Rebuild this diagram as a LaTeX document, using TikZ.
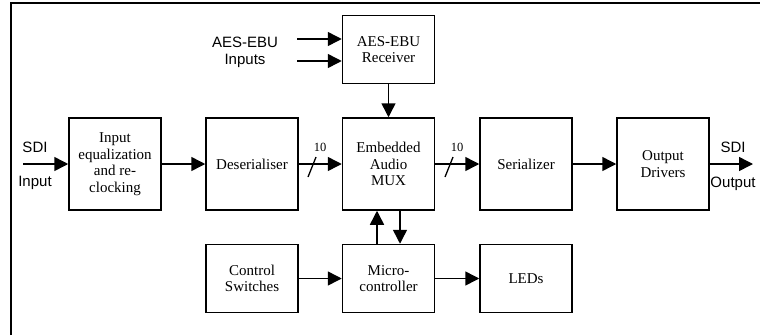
\documentclass[tikz,border=0pt]{standalone}
\usepackage{fontspec}
\setmainfont{Liberation Serif}
\setsansfont{Liberation Sans}
\usetikzlibrary{arrows.meta}

\begin{document}
\begin{tikzpicture}[x=1pt, y=-1pt,
  box/.style={draw, line width=1.5pt, minimum width=92pt, align=center,
    font=\fontsize{15}{16.5}\selectfont},
  tallbox/.style={box, minimum height=92pt},
  shortbox/.style={box, minimum height=68pt},
  arr/.style={line width=1.5pt, -{Triangle[length=14pt,width=14pt]}},
  lbl/.style={font=\sffamily\fontsize{15}{17}\selectfont, align=center},
  buswidth/.style={font=\fontsize{12.5}{13}\selectfont, inner sep=0pt},
  slash/.style={line width=1.3pt}]
  \useasboundingbox (0,0) rectangle (760,335);
  \draw[line width=1.7pt] (11,335) -- (11,3) -- (760,3);

  \node[shortbox] (recv) at (388.5,49.5) {AES-EBU\\Receiver};
  \node[tallbox] (ineq) at (115,164) {Input\\equalization\\and re-\\clocking};
  \node[tallbox] (deser) at (252,164) {Deserialiser};
  \node[tallbox] (mux) at (388.5,164) {Embedded\\Audio\\MUX};
  \node[tallbox] (ser) at (526,164) {Serializer};
  \node[tallbox] (outdrv) at (663,164) {Output\\Drivers};
  \node[shortbox] (ctrl) at (252,278.5) {Control\\Switches};
  \node[shortbox] (mcu) at (388.5,278.5) {Micro-\\controller};
  \node[shortbox] (leds) at (526,278.5) {LEDs};

  \node[lbl] (aesin) at (245,52) {AES-EBU\\Inputs};
  \node[lbl] (sdiin) at (35,147) {SDI};
  \node[lbl] (inlbl) at (35,183) {Input};
  \node[lbl] (sdiout) at (733,147) {SDI};
  \node[lbl] (outlbl) at (733,184) {Output};

  \coordinate (aes1) at (297,39);
  \coordinate (aes2) at (297,61);
  \coordinate (sdisrc) at (23,164);
  \coordinate (sdidst) at (753,164);

  \draw[arr] (aes1) -- (aes1 -| recv.west);
  \draw[arr] (aes2) -- (aes2 -| recv.west);
  \draw[arr] (recv) -- (mux);
  \draw[arr] (sdisrc) -- (ineq);
  \draw[arr] (ineq) -- (deser);
  \draw[arr] (deser) -- (mux);
  \draw[arr] (mux) -- (ser);
  \draw[arr] (ser) -- (outdrv);
  \draw[arr] (outdrv) -- (sdidst);
  \draw[arr] ([xshift=-11.5pt]mcu.north) -- ([xshift=-11.5pt]mux.south);
  \draw[arr] ([xshift=11.5pt]mux.south) -- ([xshift=11.5pt]mcu.north);
  \draw[arr] (ctrl) -- (mcu);
  \draw[arr] (mcu) -- (leds);

  % 10-bit buses
  \draw[slash] (308,177) -- (316,157);
  \node[buswidth] (bus1) at (320,147) {10};
  \draw[slash] (445,177) -- (453,157);
  \node[buswidth] (bus2) at (457,147) {10};
\end{tikzpicture}
\end{document}
